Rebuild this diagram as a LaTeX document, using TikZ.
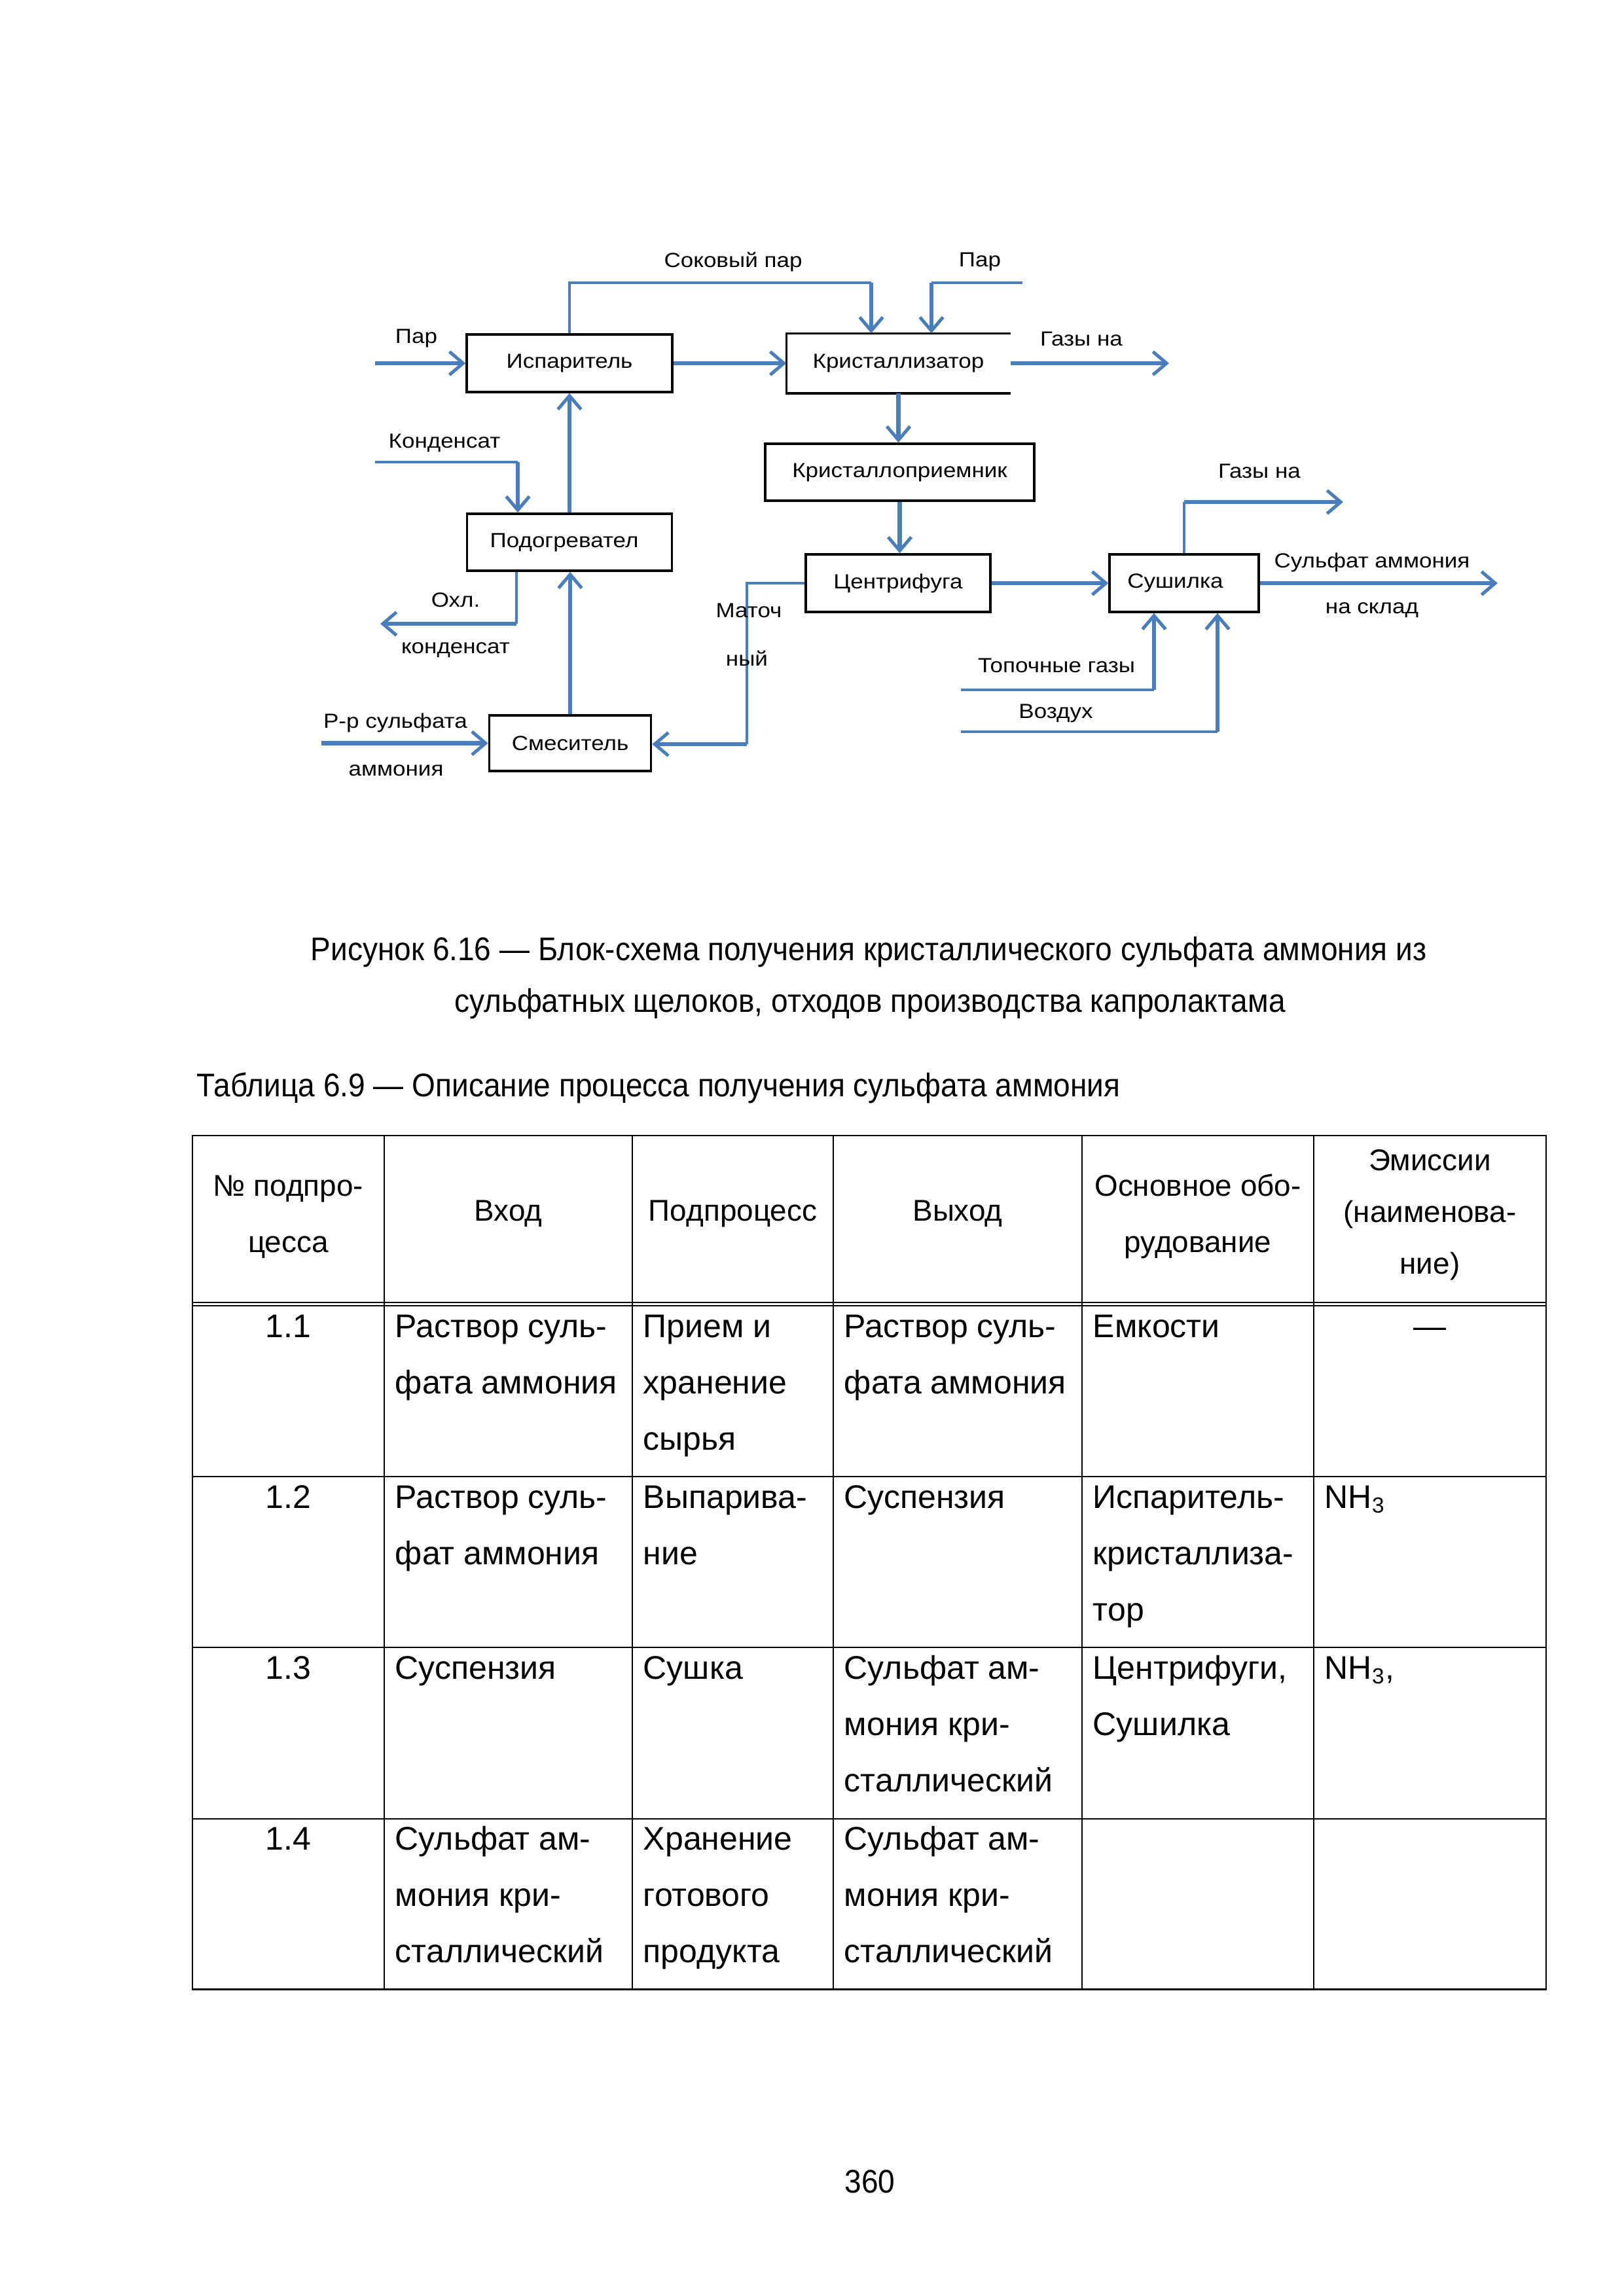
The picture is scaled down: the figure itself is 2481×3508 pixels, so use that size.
\documentclass[tikz,border=0pt]{standalone}
\usepackage{fontspec}
\setmainfont{Liberation Sans}
\newfontfamily\diafont{Liberation Sans}[FakeStretch=1.12]
\newfontfamily\capfont{Liberation Sans}[FakeStretch=0.92]
\usetikzlibrary{arrows.meta}
\definecolor{flow}{RGB}{74,126,187}
\newcommand\cellrows[5][cell]{% style, anchor, x, first baseline, lines
  \foreach \ln [count=\i from 0] in {#5} {\node[#1, anchor=#2] at (#3, {#4+86*\i}) {\ln};}}
\begin{document}
\begin{tikzpicture}[x=0.23993pt,y=-0.23993pt,
  box/.style={draw=black, line width=0.85pt, inner sep=0pt, font=\diafont\fontsize{7.5}{9}\selectfont},
  lab/.style={inner sep=0pt, font=\diafont\fontsize{7.5}{9}\selectfont},
  thinline/.style={draw=flow, line width=0.85pt},
  thickarr/.style={draw=flow, line width=1.6pt, -{Straight Barb[length=5pt,width=8.5pt,line width=1.2pt]}},
  tline/.style={line width=0.7pt},
  cell/.style={inner sep=0pt, font=\fontsize{12}{14}\selectfont},
  head/.style={inner sep=0pt, font=\fontsize{11}{13}\selectfont},
  capt/.style={inner sep=0pt, font=\capfont\fontsize{12}{14}\selectfont}]
\fill[white] (0,0) rectangle (2481,3508);
\useasboundingbox (0,0) rectangle (2481,3508);

% ---------- blocks ----------
\node[box, minimum width=75.3pt, minimum height=21.1pt] (isp) at (870,555) {Испаритель};
\node[box, draw=none, minimum width=81.3pt, minimum height=21.1pt] (kr) at (1372.5,555) {Кристаллизатор};
\draw[line width=0.85pt] (kr.north east) -- (kr.north west) -- (kr.south west) -- (kr.south east);
\node[box, minimum width=98.6pt, minimum height=20.9pt] (kp) at (1374.5,721.5) {Кристаллоприемник};
\node[box, minimum width=75.1pt, minimum height=20.9pt] (pg) at (870,828.5) {\hspace*{-3.8pt}Подогревател};
\node[box, minimum width=67.7pt, minimum height=21.1pt] (cf) at (1372,891) {Центрифуга};
\node[box, minimum width=54.7pt, minimum height=21.1pt] (su) at (1809,891) {\hspace*{-6.5pt}Сушилка};
\node[box, minimum width=59.3pt, minimum height=20.4pt] (sm) at (871,1135.5) {Смеситель};

% ---------- free ends ----------
\coordinate (parin) at (573,555);
\coordinate (sp1) at (870,432);
\coordinate (sp2) at (1331,432);
\coordinate (par2a) at (1562,432);
\coordinate (par2b) at (1423,432);
\coordinate (gaz1) at (1786,555);
\coordinate (gaz2a) at (1809,767);
\coordinate (gaz2b) at (2052,767);
\coordinate (sklad) at (2288,891);
\coordinate (top1) at (1468,1054);
\coordinate (top2) at (1763,1054);
\coordinate (vozd1) at (1468,1118);
\coordinate (vozd2) at (1860,1118);
\coordinate (mat1) at (1141,891);
\coordinate (mat2) at (1141,1137);
\coordinate (rr) at (491,1135.5);
\coordinate (kond1) at (573,706);
\coordinate (kond2) at (791,706);
\coordinate (ohl1) at (789,953);
\coordinate (ohl2) at (581,953);

% ---------- connectors ----------
\draw[thickarr] (parin) -- (isp.west);
\draw[thickarr] (isp.east) -- (kr.west);
\draw[thinline] (isp.north) -- (sp1) -- (sp2);
\draw[thickarr] (sp2) -- (sp2 |- kr.north);
\draw[thinline] (par2a) -- (par2b);
\draw[thickarr] (par2b) -- (par2b |- kr.north);
\draw[thickarr] (kr.east) -- (gaz1);
\draw[thickarr] (kr.south) -- (kr.south |- kp.north);
\draw[thickarr] (kp.south) -- (kp.south |- cf.north);
\draw[thickarr] (cf.east) -- (su.west);
\draw[thickarr] (su.east) -- (sklad);
\draw[thinline] (su.north) -- (gaz2a);
\draw[thickarr] (gaz2a) -- (gaz2b);
\draw[thinline] (top1) -- (top2);
\draw[thickarr] (top2) -- (top2 |- su.south);
\draw[thinline] (vozd1) -- (vozd2);
\draw[thickarr] (vozd2) -- (vozd2 |- su.south);
\draw[thinline] (cf.west) -- (mat1) -- (mat2);
\draw[thickarr] (mat2) -- (mat2 -| sm.east);
\draw[thickarr] (rr) -- (sm.west);
\draw[thickarr] (sm.north) -- (sm.north |- pg.south);
\draw[thickarr] (pg.north) -- (pg.north |- isp.south);
\draw[thinline] (kond1) -- (kond2);
\draw[thickarr] (kond2) -- (kond2 |- pg.north);
\draw[thinline] (pg.south -| ohl1) -- (ohl1);
\draw[thickarr] (ohl1) -- (ohl2);

% ---------- labels ----------
\node[lab] (l1) at (636,517) {Пар};
\node[lab] (l2) at (1120,400) {Соковый пар};
\node[lab] (l3) at (1497,400) {Пар};
\node[lab] (l4) at (1652,518) {Газы на};
\node[lab] (l5) at (679,677) {Конденсат};
\node[lab] (l6) at (1924,720) {Газы на};
\node[lab] (l7) at (2096,859) {Сульфат аммония};
\node[lab] (l8) at (2096,932) {на склад};
\node[lab] (l9) at (696,917) {Охл.};
\node[lab] (l10) at (696,993) {конденсат};
\node[lab] (l11) at (1144,933) {Маточ};
\node[lab] (l12) at (1141,1006) {ный};
\node[lab] (l13) at (1614,1017) {Топочные газы};
\node[lab] (l14) at (1613,1090) {Воздух};
\node[lab] (l15) at (604,1104) {Р-р сульфата};
\node[lab] (l16) at (605,1177) {аммония};

% ---------- caption ----------
\node[capt, anchor=base] (cap1) at (1327,1467) {Рисунок 6.16 — Блок-схема получения кристаллического сульфата аммония из};
\node[capt, anchor=base] (cap2) at (1329,1546) {сульфатных щелоков, отходов производства капролактама};
\node[capt, anchor=base west] (ttl) at (300,1675) {Таблица 6.9 — Описание процесса получения сульфата аммония};

% ---------- table ----------
\draw[tline] (294,1735) rectangle (2362,3039);
\foreach \xx in {587,966,1273,1653,2007} \draw[tline] (\xx,1735) -- (\xx,3039);
\foreach \yy in {1990,1995,2256,2517,2779} \draw[tline] (294,\yy) -- (2362,\yy);

% header
\cellrows[head]{base}{440.5}{1827}{№ подпро-, цесса}
\cellrows[head]{base}{776.5}{1865}{Вход}
\cellrows[head]{base}{1119.5}{1865}{Подпроцесс}
\cellrows[head]{base}{1463}{1865}{Выход}
\cellrows[head]{base}{1830}{1827}{Основное обо-, рудование}
\node[head, anchor=base] (h6a) at (2184.5,1788) {Эмиссии};
\node[head, anchor=base] (h6b) at (2184.5,1867) {(наименова-};
\node[head, anchor=base] (h6c) at (2184.5,1946) {ние)};

% row 1.1
\cellrows{base}{440.5}{2043}{1.1}
\cellrows{base west}{603}{2043}{Раствор суль-, фата аммония}
\cellrows{base west}{982}{2043}{Прием и, хранение, сырья}
\cellrows{base west}{1289}{2043}{Раствор суль-, фата аммония}
\cellrows{base west}{1669}{2043}{Емкости}
\cellrows{base}{2184.5}{2043}{—}
% row 1.2
\cellrows{base}{440.5}{2304}{1.2}
\cellrows{base west}{603}{2304}{Раствор суль-, фат аммония}
\cellrows{base west}{982}{2304}{Выпарива-, ние}
\cellrows{base west}{1289}{2304}{Суспензия}
\cellrows{base west}{1669}{2304}{Испаритель-, кристаллиза-, тор}
\cellrows{base west}{2023}{2304}{NH\textsubscript{3}}
% row 1.3
\cellrows{base}{440.5}{2565}{1.3}
\cellrows{base west}{603}{2565}{Суспензия}
\cellrows{base west}{982}{2565}{Сушка}
\cellrows{base west}{1289}{2565}{Сульфат ам-, мония кри-, сталлический}
\cellrows{base west}{1669}{2565}{{Центрифуги,}, Сушилка}
\cellrows{base west}{2023}{2565}{{NH\textsubscript{3},}}
% row 1.4
\cellrows{base}{440.5}{2826}{1.4}
\cellrows{base west}{603}{2826}{Сульфат ам-, мония кри-, сталлический}
\cellrows{base west}{982}{2826}{Хранение, готового, продукта}
\cellrows{base west}{1289}{2826}{Сульфат ам-, мония кри-, сталлический}

% page number
\node[capt, anchor=base] (pnum) at (1329,3350) {360};
\end{tikzpicture}
\end{document}
